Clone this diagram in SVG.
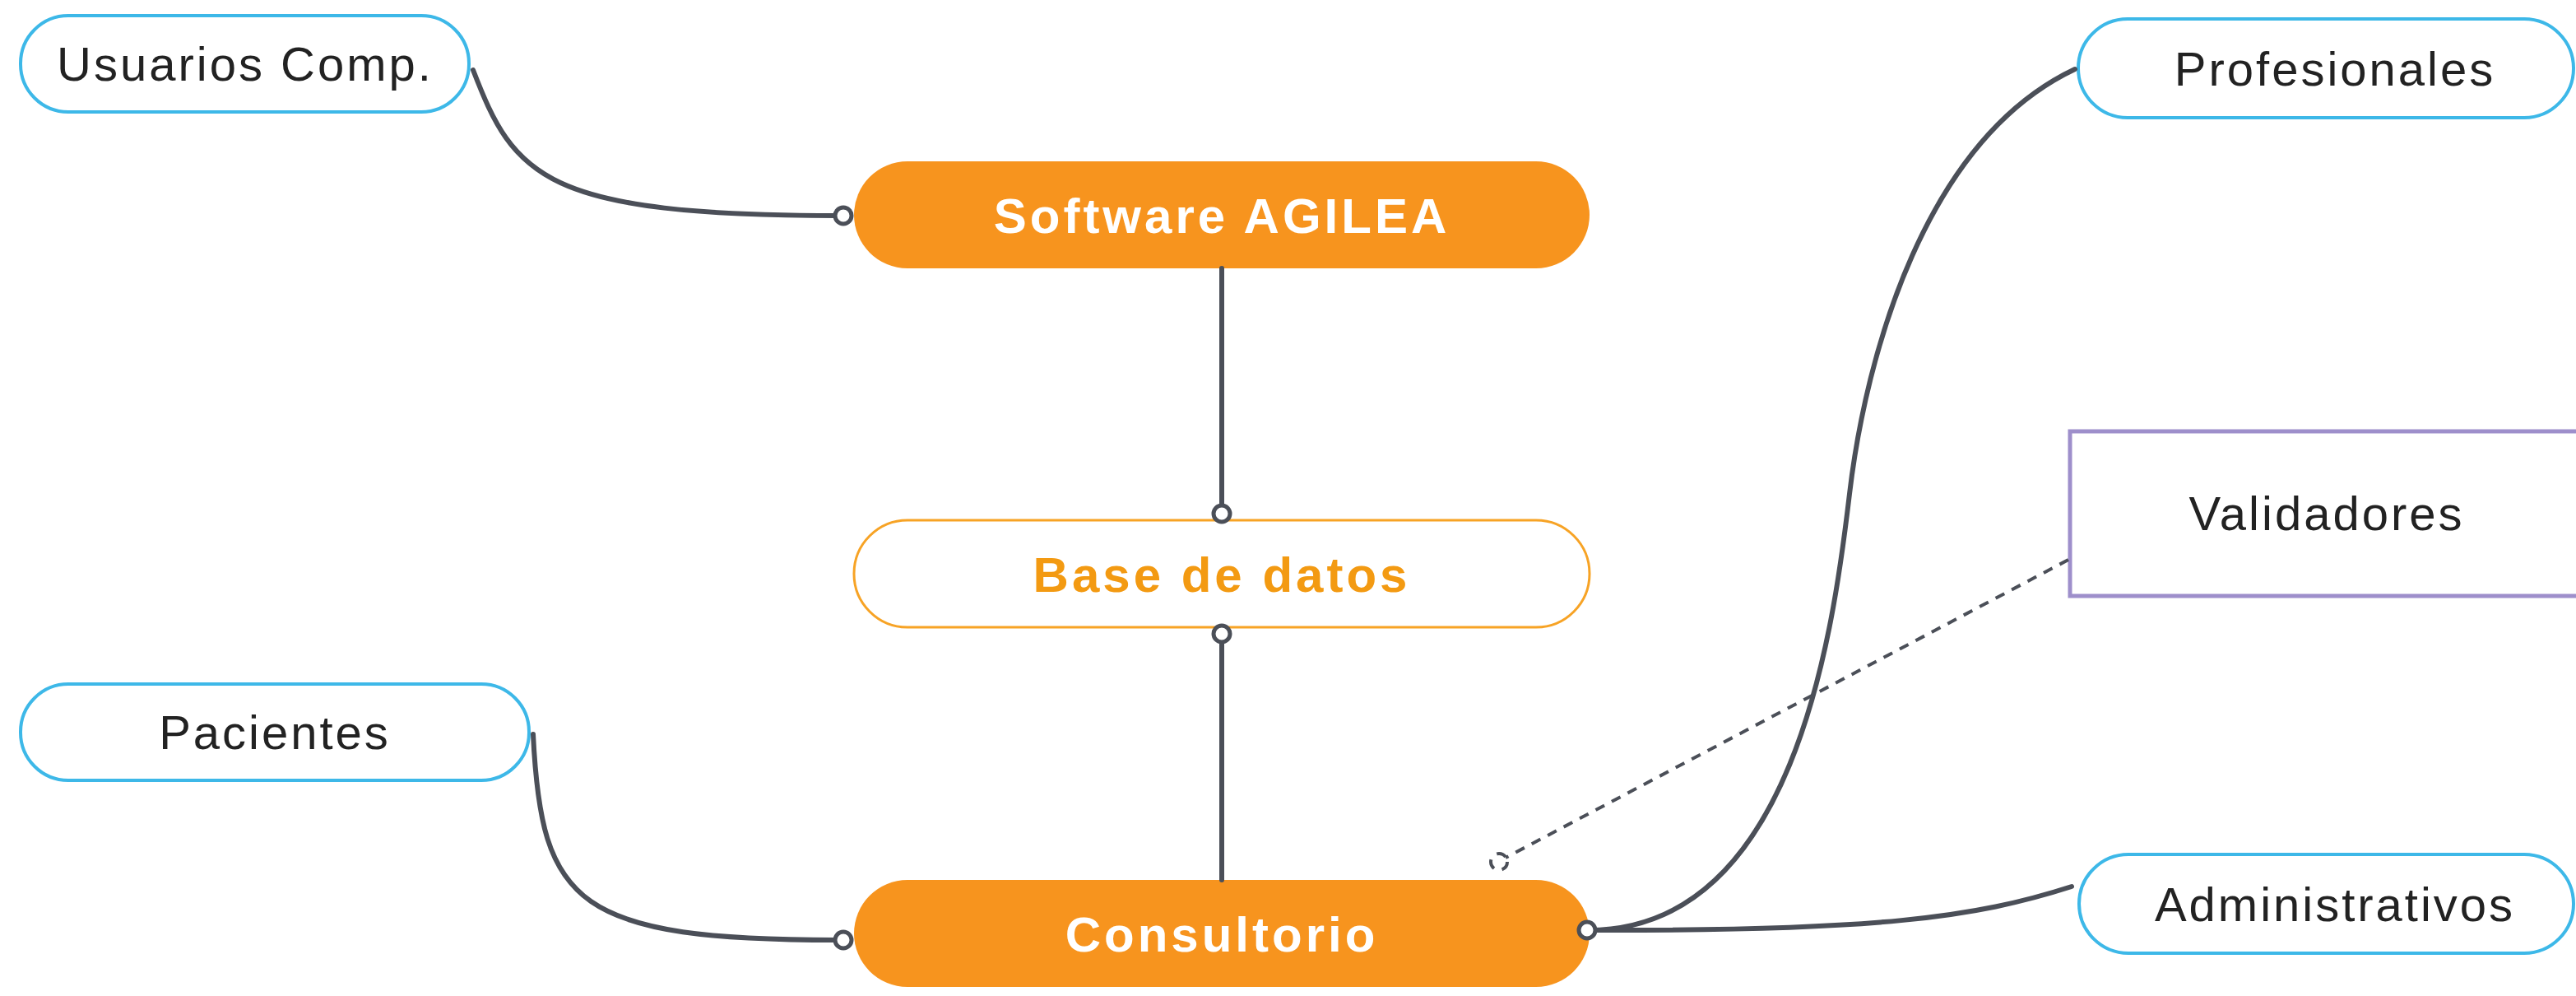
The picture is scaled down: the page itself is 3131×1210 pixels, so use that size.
<svg xmlns="http://www.w3.org/2000/svg" width="3131" height="1210" viewBox="0 0 3131 1210">
<defs>
<style>
.pill-blue{fill:#fff;stroke:#3DB8E8;stroke-width:4}
.orange{fill:#F7941E}
.ob{fill:#fff;stroke:#F7A325;stroke-width:3}
.purple{fill:#fff;stroke:#9E8FCB;stroke-width:5}
.t{font-family:"Liberation Sans",Arial,sans-serif;font-size:58px;fill:#222;text-anchor:middle;letter-spacing:3px}
.tb{font-family:"Liberation Sans",Arial,sans-serif;font-size:60px;font-weight:bold;text-anchor:middle;letter-spacing:4px}
.w{fill:#fff}
.ot{fill:#F39A12}
.c{fill:none;stroke:#4B4F58;stroke-width:6;stroke-linecap:round}
.d{fill:none;stroke:#4B4F58;stroke-width:4;stroke-dasharray:12 10}
.dot{fill:#fff;stroke:#4B4F58;stroke-width:5}
</style>
</defs>
<rect width="3131" height="1210" fill="#fff"/>
<g id="n-usuarios"><rect class="pill-blue" x="25" y="19" width="545" height="117" rx="58"/><text class="t" x="298" y="98">Usuarios Comp.</text></g>
<g id="n-software"><rect class="orange" x="1038" y="196" width="894" height="130" rx="65"/><text class="tb w" x="1485" y="283">Software AGILEA</text></g>
<g id="n-base"><rect class="ob" x="1038" y="632" width="894" height="130" rx="65"/><text class="tb ot" x="1485" y="719">Base de datos</text></g>
<g id="n-consultorio"><rect class="orange" x="1038" y="1069" width="894" height="130" rx="65"/><text class="tb w" x="1485" y="1156">Consultorio</text></g>
<g id="n-pacientes"><rect class="pill-blue" x="25" y="831" width="618" height="117" rx="58"/><text class="t" x="334" y="910">Pacientes</text></g>
<g id="n-profesionales"><rect class="pill-blue" x="2526" y="23" width="602" height="120" rx="60"/><text class="t" x="2838" y="104">Profesionales</text></g>
<g id="n-validadores"><rect class="purple" x="2516" y="524" width="620" height="200"/><text class="t" x="2828" y="644">Validadores</text></g>
<g id="n-administrativos"><rect class="pill-blue" x="2527" y="1038" width="601" height="120" rx="60"/><text class="t" x="2838" y="1119">Administrativos</text></g>
<g id="connectors">
<path class="c" d="M575,85 C625,215 660,262 1024,262"/>
<path class="c" d="M1485,326 L1485,622"/>
<path class="c" d="M1485,772 L1485,1069"/>
<path class="c" d="M648,892 C658,1100 700,1142 1024,1142"/>
<path class="c" d="M1930,1130 C2180,1130 2228,770 2248,600 C2268,430 2340,170 2522,84"/>
<path class="c" d="M1930,1130 C2280,1131 2400,1115 2518,1077"/>
<path class="d" d="M2514,680 L1830,1042"/>
<circle class="d" cx="1822" cy="1047" r="10" stroke-dasharray="6 5"/>
<circle class="dot" cx="1025" cy="262" r="10"/>
<circle class="dot" cx="1485" cy="624" r="10"/>
<circle class="dot" cx="1485" cy="770" r="10"/>
<circle class="dot" cx="1025" cy="1142" r="10"/>
<circle class="dot" cx="1929" cy="1130" r="10"/>
</g>
</svg>
